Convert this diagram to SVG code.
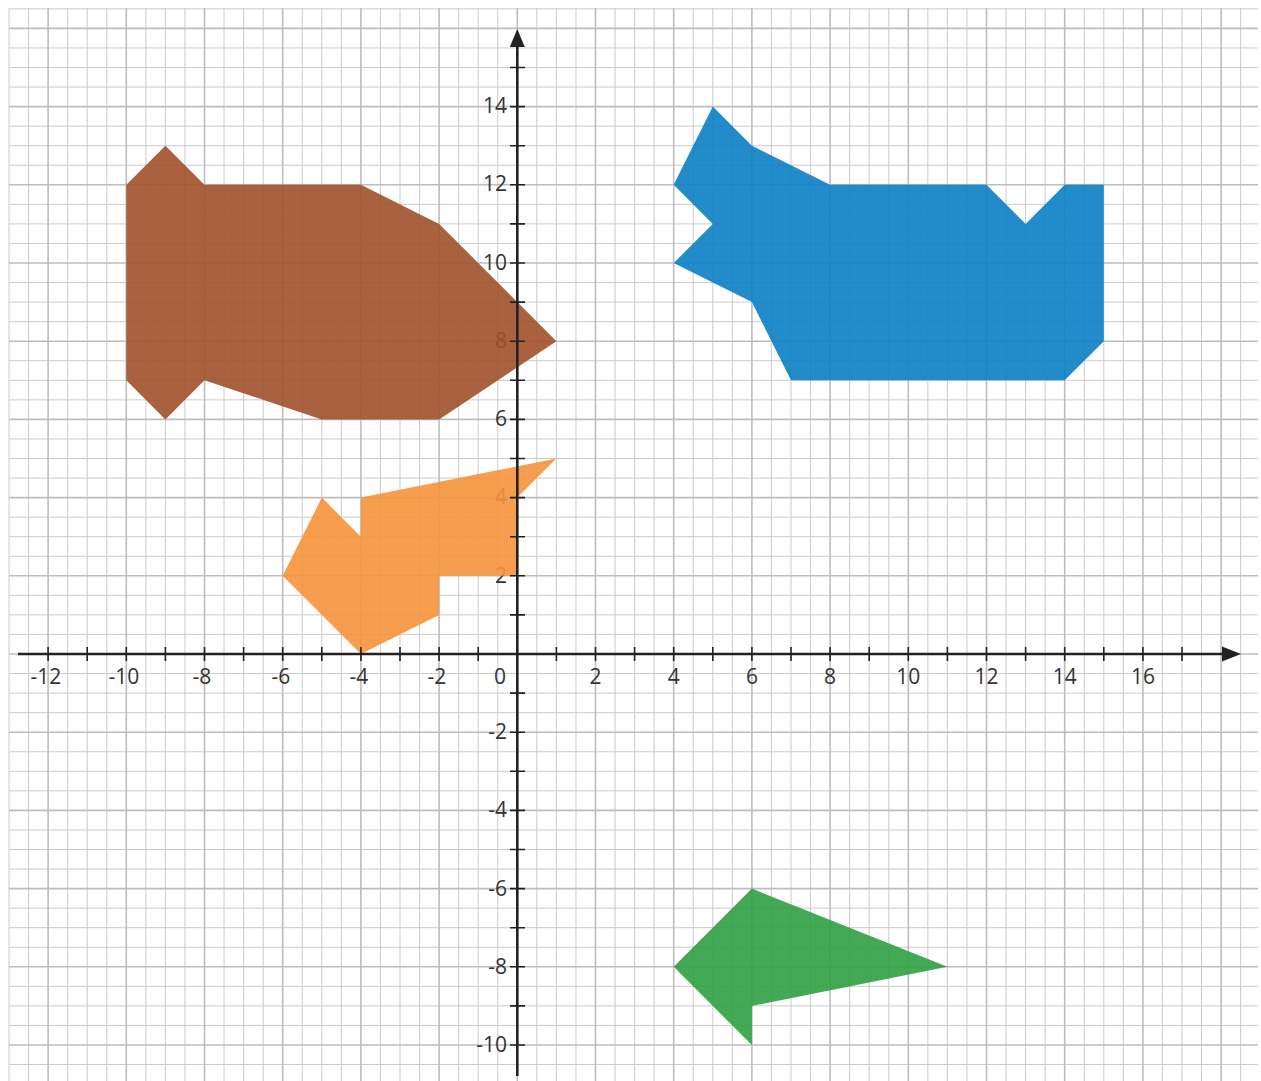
<svg xmlns="http://www.w3.org/2000/svg" width="1261" height="1081" viewBox="0 0 1261 1081">
<style>
.minor{stroke:#cbcbcb;stroke-width:1;fill:none}
.major{stroke:#bdbdbd;stroke-width:1.6;fill:none}
.axis{stroke:#222;stroke-width:2.6;fill:none}
.tick{stroke:#222;stroke-width:1.6;fill:none}
.lbl{font-family:"Open Sans","Noto Sans",sans-serif;font-size:21px;fill:#333}
.xl{text-anchor:middle}
.yl{text-anchor:end}
</style>
<rect width="1261" height="1081" fill="#fff"/>
<g id="grid">
<path class="minor" d="M9 8V1081M28.55 8V1081M67.65 8V1081M87.2 8V1081M106.75 8V1081M145.85 8V1081M165.4 8V1081M184.95 8V1081M224.05 8V1081M243.6 8V1081M263.15 8V1081M302.25 8V1081M321.8 8V1081M341.35 8V1081M380.45 8V1081M400 8V1081M419.55 8V1081M458.65 8V1081M478.2 8V1081M497.75 8V1081M536.85 8V1081M556.4 8V1081M575.95 8V1081M615.05 8V1081M634.6 8V1081M654.15 8V1081M693.25 8V1081M712.8 8V1081M732.35 8V1081M771.45 8V1081M791 8V1081M810.55 8V1081M849.65 8V1081M869.2 8V1081M888.75 8V1081M927.85 8V1081M947.4 8V1081M966.95 8V1081M1006.05 8V1081M1025.6 8V1081M1045.15 8V1081M1084.25 8V1081M1103.8 8V1081M1123.35 8V1081M1162.45 8V1081M1182 8V1081M1201.55 8V1081M1240.65 8V1081"/>
<path class="minor" d="M9 8.85H1258M9 47.95H1258M9 67.5H1258M9 87.05H1258M9 126.15H1258M9 145.7H1258M9 165.25H1258M9 204.35H1258M9 223.9H1258M9 243.45H1258M9 282.55H1258M9 302.1H1258M9 321.65H1258M9 360.75H1258M9 380.3H1258M9 399.85H1258M9 438.95H1258M9 458.5H1258M9 478.05H1258M9 517.15H1258M9 536.7H1258M9 556.25H1258M9 595.35H1258M9 614.9H1258M9 634.45H1258M9 673.55H1258M9 693.1H1258M9 712.65H1258M9 751.75H1258M9 771.3H1258M9 790.85H1258M9 829.95H1258M9 849.5H1258M9 869.05H1258M9 908.15H1258M9 927.7H1258M9 947.25H1258M9 986.35H1258M9 1005.9H1258M9 1025.45H1258M9 1064.55H1258"/>
<path class="major" d="M48.1 8V1081M126.3 8V1081M204.5 8V1081M282.7 8V1081M360.9 8V1081M439.1 8V1081M517.3 8V1081M595.5 8V1081M673.7 8V1081M751.9 8V1081M830.1 8V1081M908.3 8V1081M986.5 8V1081M1064.7 8V1081M1142.9 8V1081M1221.1 8V1081"/>
<path class="major" d="M9 28.4H1258M9 106.6H1258M9 184.8H1258M9 263H1258M9 341.2H1258M9 419.4H1258M9 497.6H1258M9 575.8H1258M9 654H1258M9 732.2H1258M9 810.4H1258M9 888.6H1258M9 966.8H1258M9 1045H1258"/>
</g>
<g id="labels" class="lbl">
<text class="xl" x="46" y="684">-12</text>
<text class="xl" x="124" y="684">-10</text>
<text class="xl" x="202" y="684">-8</text>
<text class="xl" x="281" y="684">-6</text>
<text class="xl" x="359" y="684">-4</text>
<text class="xl" x="437" y="684">-2</text>
<text class="xl" x="500" y="684">0</text>
<text class="xl" x="595.5" y="684">2</text>
<text class="xl" x="673.7" y="684">4</text>
<text class="xl" x="751.9" y="684">6</text>
<text class="xl" x="830.1" y="684">8</text>
<text class="xl" x="908.3" y="684">10</text>
<text class="xl" x="986.5" y="684">12</text>
<text class="xl" x="1064.7" y="684">14</text>
<text class="xl" x="1142.9" y="684">16</text>
<text class="yl" x="507" y="113">14</text>
<text class="yl" x="507" y="191">12</text>
<text class="yl" x="507" y="270">10</text>
<text class="yl" x="507" y="348">8</text>
<text class="yl" x="507" y="426">6</text>
<text class="yl" x="507" y="504">4</text>
<text class="yl" x="507" y="583">2</text>
<text class="yl" x="507" y="739">-2</text>
<text class="yl" x="507" y="817">-4</text>
<text class="yl" x="507" y="896">-6</text>
<text class="yl" x="507" y="974">-8</text>
<text class="yl" x="507" y="1052">-10</text>
</g>
<g transform="translate(517.3 654) scale(39.1 -39.1)" fill-opacity="0.9">
<g id="brown-shape"><polygon fill="#a0502a" points="-10,12 -9,13 -8,12 -4,12 -2,11 1,8 -2,6 -5,6 -8,7 -9,6 -10,7"/></g>
<g id="blue-shape"><polygon fill="#0a7fc4" points="4,12 5,14 6,13 8,12 12,12 13,11 14,12 15,12 15,8 14,7 7,7 6,9 4,10 5,11"/></g>
<g id="orange-shape"><polygon fill="#f5933a" points="1,5 -4,4 -4,3 -5,4 -6,2 -4,0 -2,1 -2,2 0,2 0,4"/></g>
<g id="green-shape"><polygon fill="#2fa042" points="6,-6 11,-8 6,-9 6,-10 4,-8"/></g>
</g>
<g id="axes">
<path class="axis" d="M18 654H1226M517.3 1076V42"/>
<polygon fill="#222" points="1241,654 1222,646.5 1222,661.5"/>
<polygon fill="#222" points="517.3,29 509.8,47 524.8,47"/>
<path class="tick" d="M48.1 647V661M87.2 647V661M126.3 647V661M165.4 647V661M204.5 647V661M243.6 647V661M282.7 647V661M321.8 647V661M360.9 647V661M400 647V661M439.1 647V661M478.2 647V661M556.4 647V661M595.5 647V661M634.6 647V661M673.7 647V661M712.8 647V661M751.9 647V661M791 647V661M830.1 647V661M869.2 647V661M908.3 647V661M947.4 647V661M986.5 647V661M1025.6 647V661M1064.7 647V661M1103.8 647V661M1142.9 647V661M1182 647V661"/>
<path class="tick" d="M510 67.5H525M510 106.6H525M510 145.7H525M510 184.8H525M510 223.9H525M510 263H525M510 302.1H525M510 341.2H525M510 380.3H525M510 419.4H525M510 458.5H525M510 497.6H525M510 536.7H525M510 575.8H525M510 614.9H525M510 693.1H525M510 732.2H525M510 771.3H525M510 810.4H525M510 849.5H525M510 888.6H525M510 927.7H525M510 966.8H525M510 1005.9H525M510 1045H525"/>
</g>
</svg>
